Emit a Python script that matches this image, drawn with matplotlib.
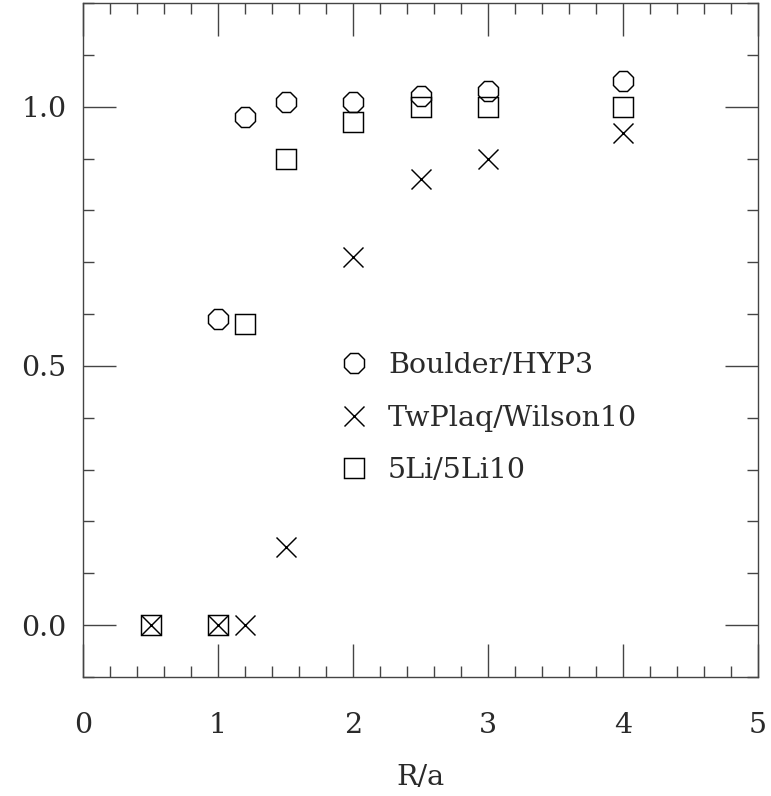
import matplotlib
matplotlib.use("Agg")
import matplotlib.pyplot as plt
from matplotlib.ticker import MultipleLocator, FixedLocator

plt.rcParams['font.family'] = ['DejaVu Serif']

# data
hyp_x = [1.0, 1.2, 1.5, 2.0, 2.5, 3.0, 4.0]
hyp_y = [0.59, 0.98, 1.01, 1.01, 1.02, 1.03, 1.05]

wil_x = [0.5, 1.0, 1.2, 1.5, 2.0, 2.5, 3.0, 4.0]
wil_y = [0.0, 0.0, 0.0, 0.15, 0.71, 0.86, 0.90, 0.95]

li_x = [0.5, 1.0, 1.2, 1.5, 2.0, 2.5, 3.0, 4.0]
li_y = [0.0, 0.0, 0.58, 0.90, 0.97, 1.00, 1.00, 1.00]

labels = ["Boulder/HYP3", "TwPlaq/Wilson10", "5Li/5Li10"]
xticks = [0, 1, 2, 3, 4, 5]
xticklabels = ["0", "1", "2", "3", "4", "5"]
yticks = [0.0, 0.5, 1.0]
yticklabels = ["0.0", "0.5", "1.0"]

fs = 20.5
txtc = '#2a2a2a'
fig = plt.figure(figsize=(7.71, 7.96), dpi=100)
ax = fig.add_axes([83/771, 119/796, 675/771, 674/796])

axc = '#444444'
ms = 14.0
mew = 1.05
ax.plot(hyp_x, hyp_y, ls='none', marker='8', ms=15.2, mfc='none', mec='black', mew=mew, label=labels[0])
ax.plot(wil_x, wil_y, ls='none', marker='x', ms=ms, mfc='none', mec='black', mew=mew, label=labels[1])
ax.plot(li_x, li_y, ls='none', marker='s', ms=ms, mfc='none', mec='black', mew=mew, label=labels[2])

ax.set_xlim(0, 5)
ax.set_ylim(-0.1, 1.2)

ax.xaxis.set_major_locator(FixedLocator(xticks))
ax.set_xticklabels(xticklabels)
ax.xaxis.set_minor_locator(MultipleLocator(0.2))
ax.yaxis.set_major_locator(FixedLocator(yticks))
ax.set_yticklabels(yticklabels)
ax.yaxis.set_minor_locator(MultipleLocator(0.1))

ax.tick_params(which='both', direction='in', top=True, right=True, color=axc, width=1.0,
               labelsize=fs, labelcolor=txtc)
ax.tick_params(which='major', length=23.5)
ax.tick_params(which='minor', length=8)
ax.tick_params(axis='x', which='major', pad=25)
ax.tick_params(axis='y', which='major', pad=12)
for s in ax.spines.values():
    s.set_color(axc)
    s.set_linewidth(1.0)

ax.set_xlabel("R/a", fontsize=fs, labelpad=18, color=txtc)

leg = ax.legend(loc='upper left', bbox_to_anchor=(0.38, 0.482), frameon=False,
                fontsize=fs, handlelength=1.0, handletextpad=0.7, labelspacing=0.9,
                borderpad=0, borderaxespad=0, numpoints=1)
for t in leg.get_texts():
    t.set_color(txtc)

fig.savefig("out.png", dpi=100)
